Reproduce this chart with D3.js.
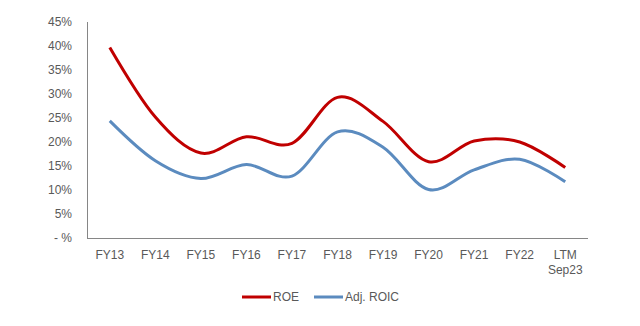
<!DOCTYPE html>
<html>
<head>
<meta charset="utf-8">
<script src="https://cdn.jsdelivr.net/npm/d3@7"></script>
<style>
  body { margin: 0; background: #fff; }
  text { font-family: "Liberation Sans", Arial, sans-serif; fill: #595959; }
</style>
</head>
<body>
<div id="chart"></div>
<script>
// data
let categories = ['FY13', 'FY14', 'FY15', 'FY16', 'FY17', 'FY18', 'FY19', 'FY20', 'FY21', 'FY22', 'LTM\nSep23'];
let roe = [39.7, 25.2, 17.7, 21.1, 19.7, 29.3, 24.3, 15.9, 20.2, 20.0, 14.7];
let adjRoic = [24.4, 16.1, 12.4, 15.3, 12.9, 22.1, 18.9, 10.1, 14.2, 16.4, 11.7];
let yTicks = [0, 5, 10, 15, 20, 25, 30, 35, 40, 45];

let width = 640;
let height = 326;
let margin = { top: 22, right: 52, bottom: 88, left: 87 };

let svg = d3.select('#chart')
  .append('svg')
  .attr('width', width)
  .attr('height', height);

let x = d3.scaleBand()
  .domain(categories)
  .range([margin.left, width - margin.right]);

let y = d3.scaleLinear()
  .domain([0, 45])
  .range([height - margin.bottom, margin.top]);

// y axis labels, no ticks
svg.append('g')
  .selectAll('text')
  .data(yTicks)
  .enter()
  .append('text')
  .attr('x', margin.left - 15)
  .attr('y', d => y(d))
  .attr('dy', '0.35em')
  .attr('text-anchor', 'end')
  .style('font-size', '12px')
  .text(d => d === 0 ? '- %' : d + '%');

// axis lines
svg.append('line')
  .attr('x1', margin.left + 0.5).attr('x2', margin.left + 0.5)
  .attr('y1', margin.top).attr('y2', y(0))
  .attr('stroke', '#868686');
svg.append('line')
  .attr('x1', margin.left).attr('x2', width - margin.right)
  .attr('y1', y(0) + 0.5).attr('y2', y(0) + 0.5)
  .attr('stroke', '#868686');

// x labels
let xl = svg.append('g')
  .selectAll('text')
  .data(categories)
  .enter()
  .append('text')
  .attr('text-anchor', 'middle')
  .style('font-size', '12px');
xl.selectAll('tspan')
  .data(d => d.split('\n').map(s => ({ s: s, c: d })))
  .enter()
  .append('tspan')
  .attr('x', d => x(d.c) + x.bandwidth() / 2)
  .attr('y', (d, i) => y(0) + 21 + i * 15)
  .text(d => d.s);

let line = d3.line()
  .x((d, i) => x(categories[i]) + x.bandwidth() / 2)
  .y(d => y(d))
  .curve(d3.curveCardinal.tension(0));

let series = [
  { label: 'ROE', values: roe, color: '#C00000' },
  { label: 'Adj. ROIC', values: adjRoic, color: '#5B8BBF' }
];

svg.selectAll('.series')
  .data(series)
  .enter()
  .append('path')
  .attr('class', 'series')
  .attr('d', d => line(d.values))
  .attr('fill', 'none')
  .attr('stroke', d => d.color)
  .attr('stroke-width', 3);

// legend
let legendX = [242, 314];
let legend = svg.selectAll('.legend')
  .data(series)
  .enter()
  .append('g')
  .attr('class', 'legend')
  .attr('transform', (d, i) => 'translate(' + legendX[i] + ',297)');

legend.append('line')
  .attr('x1', 0).attr('x2', 29)
  .attr('stroke', d => d.color)
  .attr('stroke-width', 3);

legend.append('text')
  .attr('x', 31)
  .attr('dy', '0.35em')
  .style('font-size', '12px')
  .text(d => d.label);
</script>
</body>
</html>
